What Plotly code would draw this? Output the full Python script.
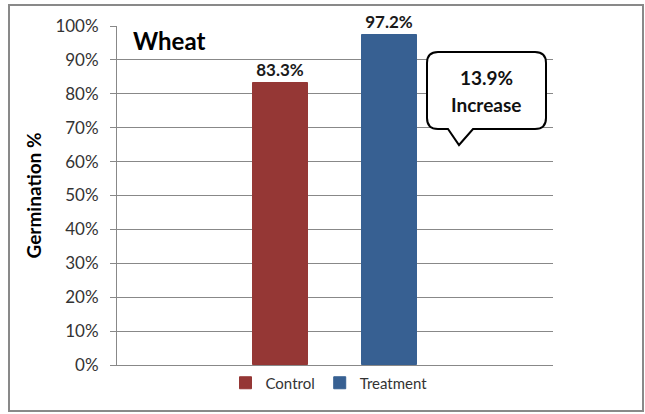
import plotly.graph_objects as go

# data
series = ["Control", "Treatment"]
germination = [83.3, 97.2]
bar_colors = ["#953735", "#376092"]
tick_vals = [0, 10, 20, 30, 40, 50, 60, 70, 80, 90, 100]
tick_text = [f"{v}%" for v in tick_vals]
crop = "Wheat"
callout_lines = ["13.9%", "Increase"]

W, H = 645, 414
L, R, T, B = 117, 553, 26, 365  # plot area in pixels


def px(x):
    return (x - L) / (R - L)


def py(y):
    return (B - y) / (B - T)


FONT = "Lato"

fig = go.Figure()
for name, val, col in zip(series, germination, bar_colors):
    fig.add_trace(go.Bar(
        x=[name], y=[val], name=name,
        marker=dict(color=col, line=dict(color=col, width=1)),
        width=0.5,
        text=[f"<b>{val:.1f}%</b>"], textposition="outside",
        textfont=dict(family=FONT, size=17, color="#1a1a1a"),
        cliponaxis=False,
    ))

# callout bubble with rounded corners and pointer
x0, x1, y0, y1, r = 427, 546, 52, 129, 11
pts = [
    f"M{px(x0 + r)},{py(y0)}",
    f"L{px(x1 - r)},{py(y0)}",
    f"Q{px(x1)},{py(y0)} {px(x1)},{py(y0 + r)}",
    f"L{px(x1)},{py(y1 - r)}",
    f"Q{px(x1)},{py(y1)} {px(x1 - r)},{py(y1)}",
    f"L{px(473)},{py(y1)}",
    f"L{px(459)},{py(145)}",
    f"L{px(448)},{py(y1)}",
    f"L{px(x0 + r)},{py(y1)}",
    f"Q{px(x0)},{py(y1)} {px(x0)},{py(y1 - r)}",
    f"L{px(x0)},{py(y0 + r)}",
    f"Q{px(x0)},{py(y0)} {px(x0 + r)},{py(y0)}",
    "Z",
]
fig.add_shape(type="path", xref="paper", yref="paper", path=" ".join(pts),
              line=dict(color="black", width=2), fillcolor="white", layer="above")

# outer chart border
fig.add_shape(type="rect", xref="paper", yref="paper",
              x0=px(9), x1=px(643), y0=py(5), y1=py(411),
              line=dict(color="#898989", width=2))

fig.add_annotation(xref="paper", yref="paper", x=px(486), y=py(77),
                   xanchor="center", yanchor="middle",
                   text=f"<b>{callout_lines[0]}</b>", showarrow=False,
                   font=dict(family=FONT, size=19, color="#111"))
fig.add_annotation(xref="paper", yref="paper", x=px(486), y=py(104),
                   xanchor="center", yanchor="middle",
                   text=f"<b>{callout_lines[1]}</b>", showarrow=False,
                   font=dict(family=FONT, size=19, color="#111"))
fig.add_annotation(xref="paper", yref="paper", x=px(131), y=py(41),
                   xanchor="left", yanchor="middle", text=f"<b>{crop}</b>", showarrow=False,
                   font=dict(family=FONT, size=24, color="black"))

fig.update_layout(
    width=W, height=H,
    margin=dict(l=L, r=W - R, t=T, b=H - B),
    paper_bgcolor="white", plot_bgcolor="white",
    font=dict(family=FONT, color="#333"),
    bargap=0, barmode="group",
    showlegend=True,
    legend=dict(orientation="h", x=px(329), xanchor="center", y=py(383), yanchor="middle",
                font=dict(family=FONT, size=15, color="#333"), itemwidth=30,
                bgcolor="rgba(0,0,0,0)"),
    xaxis=dict(type="category", range=[-1.5, 2.5], showgrid=False, showticklabels=False,
               showline=True, linecolor="#888", linewidth=1, ticks=""),
    yaxis=dict(range=[0, 100], tickvals=tick_vals, ticktext=tick_text,
               showgrid=True, gridcolor="#888", gridwidth=1,
               showline=True, linecolor="#888", linewidth=1,
               ticks="outside", ticklen=6, tickcolor="#888",
               ticklabelstandoff=8,
               tickfont=dict(family=FONT, size=17, color="#333"),
               title=dict(text="<b>Germination %</b>", standoff=8,
                          font=dict(family=FONT, size=19, color="black"))),
)

fig.write_html("out.html", config={"displayModeBar": False},
               post_script="document.body.style.margin='0px';")
